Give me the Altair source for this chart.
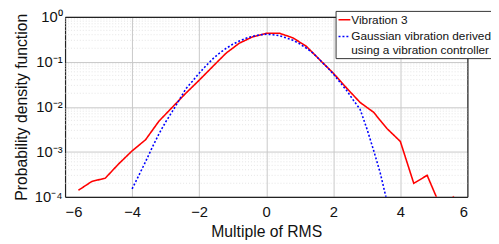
import altair as alt
import pandas as pd

# --- data ---
red_name = "Vibration 3"
blue_name = "Gaussian vibration derived\nusing a vibration controller"

red_x = [-5.6, -5.2, -4.8, -4.4, -4.0, -3.6, -3.2, -2.8, -2.4, -2.0, -1.6, -1.2,
         -0.8, -0.4, 0.0, 0.4, 0.8, 1.2, 1.6, 2.0, 2.4, 2.8, 3.2, 3.6, 4.0, 4.4,
         4.8, 5.2, 5.6]
red_y = [1.4e-4, 2.2e-4, 2.6e-4, 5.4e-4, 1.05e-3, 1.85e-3, 4.8e-3, 9.8e-3, 0.02,
         0.039, 0.078, 0.155, 0.26, 0.36, 0.43, 0.43, 0.34, 0.22, 0.11, 0.056,
         0.026, 0.0125, 0.0076, 0.0033, 0.0017, 2.0e-4, 3.0e-4, 6e-5, 1.02e-4]

blue_x = [-4.0, -3.8, -3.6, -3.4, -3.2, -3.0, -2.8, -2.6, -2.4, -2.2, -2.0, -1.8,
          -1.6, -1.4, -1.2, -1.0, -0.8, -0.6, -0.4, -0.2, 0.0, 0.2, 0.4, 0.6,
          0.8, 1.0, 1.2, 1.4, 1.6, 1.8, 2.0, 2.2, 2.4, 2.6, 2.8, 3.0, 3.2, 3.4, 3.6]
blue_y = [1.5e-4, 3.0e-4, 6.0e-4, 1.25e-3, 2.5e-3, 4.6e-3, 7.9e-3, 0.014, 0.025,
          0.037, 0.056, 0.081, 0.115, 0.155, 0.198, 0.245, 0.29, 0.335, 0.37,
          0.395, 0.41, 0.40, 0.38, 0.34, 0.30, 0.25, 0.20, 0.155, 0.11, 0.078,
          0.054, 0.035, 0.023, 0.014, 0.0088, 3.3e-3, 1.1e-3, 3.4e-4, 8e-5]

x_ticks = [-6, -4, -2, 0, 2, 4, 6]
y_ticks = [1e-4, 1e-3, 1e-2, 1e-1, 1]
minor_y = [m * 10.0 ** e for e in (-4, -3, -2, -1) for m in range(2, 10)]

df = pd.concat([
    pd.DataFrame({"x": red_x, "y": red_y, "series": red_name}),
    pd.DataFrame({"x": blue_x, "y": blue_y, "series": blue_name}),
])
minor_df = pd.DataFrame({"y": minor_y})
frame_df = pd.DataFrame({"x": [x_ticks[0]], "y": [y_ticks[0]]})

FONT = "Liberation Sans"
FRAME = "#222"

x_scale = alt.Scale(domain=[-6, 6], nice=False)
y_scale = alt.Scale(type="log", domain=[1e-4, 1], nice=False)

ylabel_expr = ("datum.value >= 0.99 ? '10⁰' : datum.value >= 0.099 ? '10⁻¹' : "
               "datum.value >= 0.0099 ? '10⁻²' : datum.value >= 0.00099 ? '10⁻³' : '10⁻⁴'")

minor = alt.Chart(minor_df).mark_rule(
    color="#d9d9d9", strokeWidth=0.7, strokeDash=[1, 2]
).encode(
    y=alt.Y("y:Q", scale=y_scale, axis=None),
)

lines = alt.Chart(df).mark_line(strokeWidth=1.6, clip=True).encode(
    x=alt.X("x:Q", scale=x_scale,
            axis=alt.Axis(orient="bottom", values=x_ticks, title="Multiple of RMS",
                          grid=True, gridColor="#c8c8c8", ticks=False, domain=True,
                          domainColor=FRAME, domainWidth=1.2,
                          labelPadding=8, labelFontSize=15, titleFontSize=16,
                          titleFontWeight="normal", titlePadding=4,
                          labelColor="#111", titleColor="#111", format="d")),
    y=alt.Y("y:Q", scale=y_scale,
            axis=alt.Axis(orient="left", values=y_ticks,
                          title="Probability density function",
                          grid=True, gridColor="#c8c8c8", ticks=False, domain=True,
                          domainColor=FRAME, domainWidth=1.2,
                          labelExpr=ylabel_expr, labelPadding=3, labelFontSize=15,
                          titleFontSize=16, titleFontWeight="normal", titlePadding=5,
                          labelColor="#111", titleColor="#111")),
    color=alt.Color("series:N",
                    scale=alt.Scale(domain=[red_name, blue_name],
                                    range=["#ff0000", "#0000ff"]),
                    legend=alt.Legend(
                        title=None, orient="none", legendX=275, legendY=-6,
                        symbolType="stroke", symbolSize=144, symbolStrokeWidth=1.6,
                        labelFontSize=12, labelFont=FONT, labelColor="#111",
                        labelExpr="split(datum.label, '\\n')", labelOffset=0,
                        strokeColor="#333", fillColor="white", padding=2,
                        rowPadding=4, cornerRadius=0, labelLimit=300)),
    strokeDash=alt.StrokeDash("series:N",
                              scale=alt.Scale(domain=[red_name, blue_name],
                                              range=[[1, 0], [2, 2]]),
                              legend=None),
)

frame = alt.Chart(frame_df).mark_point(opacity=0).encode(
    x=alt.X("x:Q", scale=x_scale,
            axis=alt.Axis(orient="top", labels=False, ticks=False, grid=False,
                          domain=True, domainColor=FRAME, domainWidth=1.2, title=None)),
    y=alt.Y("y:Q", scale=y_scale,
            axis=alt.Axis(orient="right", labels=False, ticks=False, grid=False,
                          domain=True, domainColor=FRAME, domainWidth=1.2, title=None)),
)

chart = alt.layer(minor, lines, frame).resolve_axis(
    x="independent", y="independent"
).properties(
    width=409, height=183,
    autosize=alt.AutoSizeParams(type="none"),
    padding={"left": 58, "top": 7, "right": 24, "bottom": 46},
).configure(
    font=FONT
).configure_view(
    stroke=None
)

chart.save("out.html", embed_options={"renderer": "svg", "actions": False})
